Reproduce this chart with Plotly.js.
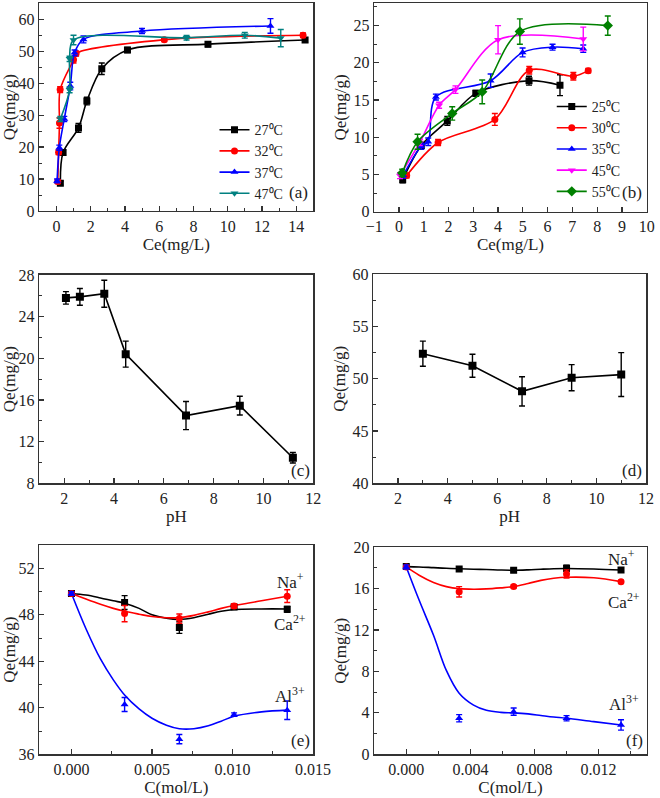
<!DOCTYPE html>
<html>
<head>
<meta charset="utf-8">
<script src="https://cdn.plot.ly/plotly-3.0.1.min.js"></script>
<style>html,body{margin:0;padding:0;background:#fff;}#chart{width:660px;height:798px;}</style>
</head>
<body>
<div id="chart"></div>
<script>
// ---------- Panel (a): isotherms, Ce (mg/L) vs Qe (mg/g) ----------
const a_names = ['27⁰C', '32⁰C', '37⁰C', '47⁰C'];
const a27_x = [0.23, 0.39, 1.29, 1.78, 2.65, 4.15, 8.85, 14.52];
const a27_y = [8.7, 18.3, 26.0, 34.4, 44.5, 50.4, 52.2, 53.5];
const a27_e = [0.6, 0.8, 1.4, 1.2, 1.8, 0.8, 0.8, 0.7];
const a32_x = [0.08, 0.13, 0.18, 0.22, 1.0, 1.15, 6.3, 14.4];
const a32_y = [9.2, 18.4, 27.5, 38.0, 47.3, 49.3, 53.6, 55.0];
const a32_e = [0.6, 0.7, 1.6, 0.9, 1.0, 0.8, 0.6, 0.7];
const a37_x = [0.04, 0.17, 0.46, 0.81, 1.06, 1.58, 5.0, 12.5];
const a37_y = [9.4, 19.8, 28.8, 39.1, 49.5, 53.7, 56.3, 57.9];
const a37_e = [0.6, 0.8, 0.8, 1.2, 0.9, 1.1, 0.8, 2.3];
const a47_x = [0.23, 0.77, 0.77, 1.0, 7.6, 11.0, 13.1];
const a47_y = [28.8, 37.9, 47.6, 53.5, 54.2, 55.0, 54.1];
const a47_e = [0.8, 0.9, 0.8, 1.5, 0.7, 0.9, 2.7];

// ---------- Panel (b) ----------
const b_names = ['25⁰C', '30⁰C', '35⁰C', '45⁰C', '55⁰C'];
const b25_x = [0.15, 0.9, 1.95, 3.1, 5.25, 6.5];
const b25_y = [4.3, 8.9, 12.2, 15.9, 17.6, 17.0];
const b25_e = [0.4, 0.4, 0.6, 0.4, 0.6, 1.4];
const b30_x = [0.31, 1.58, 3.87, 5.26, 7.04, 7.64];
const b30_y = [4.85, 9.3, 12.4, 19.0, 18.2, 18.95];
const b30_e = [0.3, 0.4, 0.8, 0.5, 0.5, 0.3];
const b35_x = [0.17, 0.9, 1.18, 1.49, 3.7, 4.99, 6.2, 7.44];
const b35_y = [4.9, 8.8, 9.4, 15.4, 17.6, 21.4, 22.1, 21.9];
const b35_e = [0.4, 0.4, 0.5, 0.4, 0.9, 0.6, 0.4, 0.5];
const b45_x = [0.04, 0.84, 1.62, 2.28, 4.0, 7.44];
const b45_y = [4.85, 9.3, 14.3, 16.4, 23.1, 23.2];
const b45_e = [0.4, 0.4, 0.4, 0.5, 1.9, 1.6];
const b55_x = [0.13, 0.75, 2.15, 3.36, 4.88, 8.43];
const b55_y = [5.2, 9.4, 13.2, 16.1, 24.2, 25.0];
const b55_e = [0.5, 1.0, 0.9, 1.6, 1.7, 1.3];

// ---------- Panel (c) ----------
const c_ph = [2.07, 2.63, 3.61, 4.47, 6.89, 9.05, 11.18];
const c_qe = [25.8, 25.9, 26.2, 20.4, 14.5, 15.45, 10.45];
const c_err = [0.6, 0.8, 1.3, 1.25, 1.35, 0.9, 0.5];

// ---------- Panel (d) ----------
const d_ph = [3, 5, 7, 9, 11];
const d_qe = [52.4, 51.25, 48.8, 50.1, 50.4];
const d_err = [1.2, 1.1, 1.4, 1.25, 2.1];

// ---------- Panel (e) ----------
const e_c = [0, 0.0033, 0.0067, 0.0101, 0.0134];
const e_black = [49.83, 49.05, 46.9, 48.67, 48.47];
const e_black_err = [0.15, 0.6, 0.5, 0.2, 0.25];
const e_red = [49.83, 48.1, 47.67, 48.76, 49.6];
const e_red_err = [0.15, 0.7, 0.4, 0.2, 0.55];
const e_blue = [49.83, 40.28, 37.3, 39.41, 39.79];
const e_blue_err = [0.15, 0.6, 0.4, 0.15, 0.8];
const e_fit_c = [0, 0.0009, 0.0018, 0.0026, 0.0033, 0.0042, 0.005, 0.0059, 0.0067, 0.0076, 0.0085, 0.0093, 0.0101, 0.0118, 0.0134];
const e_fit_black = [49.83, 49.7, 49.45, 49.2, 49.0, 48.55, 48.0, 47.7, 47.6, 47.75, 48.05, 48.3, 48.45, 48.5, 48.5];
const e_fit_red = [49.83, 49.35, 48.9, 48.55, 48.3, 48.05, 47.85, 47.75, 47.75, 47.95, 48.25, 48.55, 48.8, 49.2, 49.6];
const e_fit_blue = [49.83, 46.8, 44.2, 42.4, 41.1, 39.9, 39.1, 38.5, 38.2, 38.2, 38.45, 38.85, 39.27, 39.65, 39.8];

// ---------- Panel (f) ----------
const f_c = [0, 0.0033, 0.0067, 0.01, 0.0134];
const f_black = [18.13, 17.9, 17.78, 17.97, 17.8];
const f_black_err = [0.1, 0.15, 0.15, 0.3, 0.15];
const f_red = [18.1, 15.7, 16.2, 17.42, 16.68];
const f_red_err = [0.1, 0.5, 0.15, 0.4, 0.15];
const f_blue = [18.1, 3.48, 4.12, 3.48, 2.83];
const f_blue_err = [0.2, 0.35, 0.35, 0.25, 0.5];
const f_fit_c = [0, 0.0008, 0.0017, 0.0025, 0.0033, 0.0042, 0.005, 0.0059, 0.0067, 0.0076, 0.0084, 0.0092, 0.01, 0.0117, 0.0134];
const f_fit_black = [18.13, 18.1, 18.03, 17.97, 17.92, 17.88, 17.85, 17.8, 17.78, 17.82, 17.88, 17.93, 17.95, 17.9, 17.8];
const f_fit_red = [18.1, 17.3, 16.6, 16.2, 16.0, 15.95, 15.98, 16.08, 16.2, 16.5, 16.8, 17.0, 17.1, 17.05, 16.68];
const f_fit_blue = [18.1, 14.9, 11.5, 8.1, 5.9, 4.75, 4.25, 4.05, 4.0, 3.9, 3.75, 3.6, 3.48, 3.15, 2.83];

const FONT = 'Liberation Serif';
const traces = [];

function pts(x, y, e, color, symbol, name, xa, ya, opts) {
  opts = opts || {};
  return {
    type: 'scatter', x: x, y: y, name: name, xaxis: xa, yaxis: ya,
    mode: opts.mode || 'lines+markers',
    line: {color: color, width: 1.6, shape: opts.shape || 'spline', smoothing: 0.9},
    marker: {color: color, symbol: symbol, size: opts.size || 7},
    error_y: {type: 'data', array: e, visible: true, color: color, thickness: 1.4, width: 3},
    showlegend: !!opts.legend, legend: opts.legend || 'legend'
  };
}
function fit(x, y, color, xa, ya) {
  return {type: 'scatter', mode: 'lines', x: x, y: y, xaxis: xa, yaxis: ya,
    line: {color: color, width: 1.6, shape: 'spline', smoothing: 1}, showlegend: false, hoverinfo: 'skip'};
}

// (a)
traces.push(pts(a27_x, a27_y, a27_e, '#000000', 'square', a_names[0], 'x', 'y', {legend: 'legend'}));
traces.push(pts(a32_x, a32_y, a32_e, '#ff0000', 'circle', a_names[1], 'x', 'y', {legend: 'legend'}));
traces.push(pts(a37_x, a37_y, a37_e, '#0000ff', 'triangle-up', a_names[2], 'x', 'y', {legend: 'legend'}));
traces.push(pts(a47_x, a47_y, a47_e, '#008080', 'triangle-down', a_names[3], 'x', 'y', {legend: 'legend'}));
// (b)
traces.push(pts(b25_x, b25_y, b25_e, '#000000', 'square', b_names[0], 'x2', 'y2', {legend: 'legend2'}));
traces.push(pts(b30_x, b30_y, b30_e, '#ff0000', 'circle', b_names[1], 'x2', 'y2', {legend: 'legend2'}));
traces.push(pts(b35_x, b35_y, b35_e, '#0000ff', 'triangle-up', b_names[2], 'x2', 'y2', {legend: 'legend2'}));
traces.push(pts(b45_x, b45_y, b45_e, '#ff00ff', 'triangle-down', b_names[3], 'x2', 'y2', {legend: 'legend2'}));
traces.push(pts(b55_x, b55_y, b55_e, '#008000', 'diamond', b_names[4], 'x2', 'y2', {legend: 'legend2', size: 8}));
// (c)
traces.push(pts(c_ph, c_qe, c_err, '#000000', 'square', 'c', 'x3', 'y3', {shape: 'linear', size: 8}));
// (d)
traces.push(pts(d_ph, d_qe, d_err, '#000000', 'square', 'd', 'x4', 'y4', {shape: 'linear', size: 8}));
// (e)
traces.push(fit(e_fit_c, e_fit_black, '#000000', 'x5', 'y5'));
traces.push(fit(e_fit_c, e_fit_red, '#ff0000', 'x5', 'y5'));
traces.push(fit(e_fit_c, e_fit_blue, '#0000ff', 'x5', 'y5'));
traces.push(pts(e_c, e_black, e_black_err, '#000000', 'square', 'e1', 'x5', 'y5', {mode: 'markers'}));
traces.push(pts(e_c, e_red, e_red_err, '#ff0000', 'circle', 'e2', 'x5', 'y5', {mode: 'markers'}));
traces.push(pts(e_c, e_blue, e_blue_err, '#0000ff', 'triangle-up', 'e3', 'x5', 'y5', {mode: 'markers'}));
// (f)
traces.push(fit(f_fit_c, f_fit_black, '#000000', 'x6', 'y6'));
traces.push(fit(f_fit_c, f_fit_red, '#ff0000', 'x6', 'y6'));
traces.push(fit(f_fit_c, f_fit_blue, '#0000ff', 'x6', 'y6'));
traces.push(pts(f_c, f_black, f_black_err, '#000000', 'square', 'f1', 'x6', 'y6', {mode: 'markers'}));
traces.push(pts(f_c, f_red, f_red_err, '#ff0000', 'circle', 'f2', 'x6', 'y6', {mode: 'markers'}));
traces.push(pts(f_c, f_blue, f_blue_err, '#0000ff', 'triangle-up', 'f3', 'x6', 'y6', {mode: 'markers'}));

function ax(domain, range, dtick, minorDtick, title, anchor, extra) {
  return Object.assign({
    domain: domain, range: range, dtick: dtick, anchor: anchor,
    showline: true, linecolor: '#333', linewidth: 1.5, mirror: true,
    ticks: 'inside', ticklen: 5, tickwidth: 1.2, tickcolor: '#333',
    minor: {ticks: 'inside', ticklen: 3, tickwidth: 1, tickcolor: '#333', dtick: minorDtick, showgrid: false},
    showgrid: false, zeroline: false,
    tickfont: {family: FONT, size: 16, color: '#222'},
    title: {text: title, font: {family: FONT, size: 17, color: '#222'}, standoff: 2}
  }, extra || {});
}

const XL = [0.0595, 0.4747], XR = [0.567, 0.9798];
const legFont = {family: FONT, size: 14, color: '#222'};
const layout = {
  width: 660, height: 798,
  margin: {l: 0, r: 0, t: 0, b: 0},
  paper_bgcolor: '#fff', plot_bgcolor: '#fff',
  font: {family: FONT, size: 16, color: '#222'},
  xaxis: ax(XL, [-1, 15], 2, 1, 'Ce(mg/L)', 'y', {tick0: 0}),
  yaxis: ax([0.7356, 0.9959], [0, 65], 10, 5, 'Qe(mg/g)', 'x', {tick0: 0}),
  xaxis2: ax(XR, [-1, 10], 1, 1, 'Ce(mg/L)', 'y2', {tick0: 0}),
  yaxis2: ax([0.7347, 0.9959], [0, 28], 5, 2.5, 'Qe(mg/g)', 'x2', {tick0: 0}),
  xaxis3: ax(XL, [1, 12], 2, 1, 'pH', 'y3', {tick0: 0}),
  yaxis3: ax([0.3944, 0.6554], [8, 28], 4, 2, 'Qe(mg/g)', 'x3', {tick0: 0}),
  xaxis4: ax([0.5656, 0.9788], [1, 12], 2, 1, 'pH', 'y4', {tick0: 0}),
  yaxis4: ax([0.3944, 0.6563], [40, 60], 5, 2.5, 'Qe(mg/g)', 'x4', {tick0: 0}),
  xaxis5: ax(XL, [-0.002, 0.01502], 0.005, 0.0025, 'C(mol/L)', 'y5', {tick0: 0, tickformat: '.3f'}),
  yaxis5: ax([0.0548, 0.3170], [36, 54], 4, 2, 'Qe(mg/g)', 'x5', {tick0: 0}),
  xaxis6: ax(XR, [-0.002, 0.015], 0.004, 0.002, 'C(mol/L)', 'y6', {tick0: 0, tickformat: '.3f'}),
  yaxis6: ax([0.0548, 0.3142], [0, 20], 4, 2, 'Qe(mg/g)', 'x6', {tick0: 0}),
  legend: {x: 0.325, y: 0.857, xanchor: 'left', yanchor: 'top', bgcolor: 'rgba(0,0,0,0)',
    font: legFont, itemwidth: 30, tracegroupgap: 0},
  legend2: {x: 0.836, y: 0.886, xanchor: 'left', yanchor: 'top', bgcolor: 'rgba(0,0,0,0)',
    font: legFont, itemwidth: 30, tracegroupgap: 0},
  annotations: [
    {text: '(a)', x: 0.452, y: 1 - 193 / 798},
    {text: '(b)', x: 0.958, y: 1 - 193 / 798},
    {text: '(c)', x: 0.455, y: 1 - 470 / 798},
    {text: '(d)', x: 0.957, y: 1 - 470 / 798},
    {text: '(e)', x: 0.455, y: 1 - 740 / 798},
    {text: 'Na<sup>+</sup>', x: 0.44, y: 1 - 581 / 798},
    {text: 'Ca<sup>2+</sup>', x: 0.44, y: 1 - 623 / 798},
    {text: 'Al<sup>3+</sup>', x: 0.44, y: 1 - 695 / 798},
    {text: '(f)', x: 0.962, y: 1 - 740 / 798},
    {text: 'Na<sup>+</sup>', x: 0.942, y: 1 - 558 / 798},
    {text: 'Ca<sup>2+</sup>', x: 0.945, y: 1 - 601 / 798},
    {text: 'Al<sup>3+</sup>', x: 0.945, y: 1 - 703 / 798}
  ].map(a => Object.assign({xref: 'paper', yref: 'paper', showarrow: false, xanchor: 'center', yanchor: 'middle',
    font: {family: FONT, size: 17, color: '#222'}}, a))
};

Plotly.newPlot('chart', traces, layout, {staticPlot: true, displayModeBar: false});
</script>
</body>
</html>
